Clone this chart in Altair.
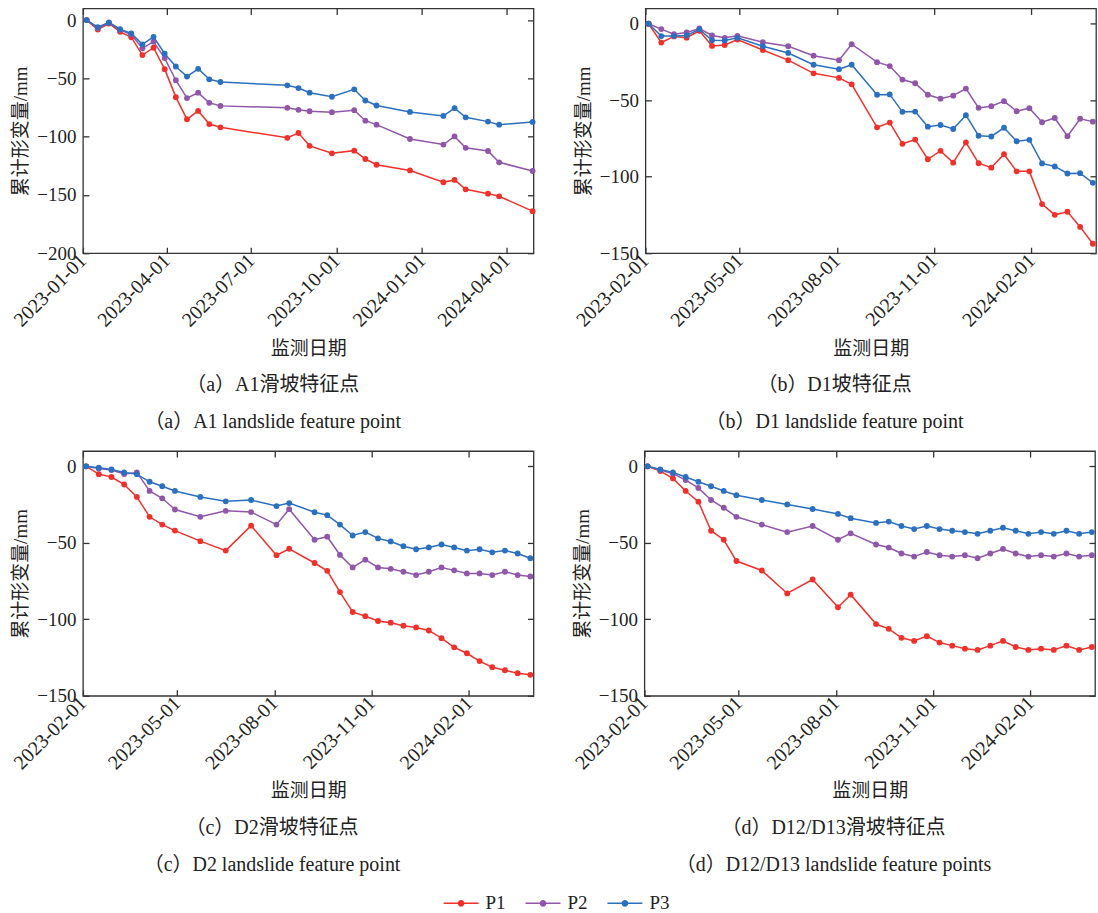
import altair as alt
import pandas as pd

SERIES = ["P1", "P2", "P3"]
COLORS = ["#f0302b", "#8f56a9", "#2b6fbf"]
FONT = "Liberation Serif, Noto Sans CJK SC"
TXT = "#222222"

# ---------- panel (a) A1 ----------
A_dates = ["2023-01-05", "2023-01-17", "2023-01-29", "2023-02-10", "2023-02-22", "2023-03-06",
           "2023-03-18", "2023-03-30", "2023-04-11", "2023-04-23", "2023-05-05", "2023-05-17",
           "2023-05-29", "2023-08-09", "2023-08-21", "2023-09-02", "2023-09-26", "2023-10-20",
           "2023-11-01", "2023-11-13", "2023-12-19", "2024-01-24", "2024-02-05", "2024-02-17",
           "2024-03-12", "2024-03-24", "2024-04-29"]
A_P1 = [0, -8.1, -2.9, -10.1, -14.7, -30, -23.7, -42.1, -66.1, -85.1, -77.9, -89.2, -92, -101,
        -96.9, -107.9, -114.3, -112, -119.2, -124.1, -129, -139.1, -137.1, -145.2, -148.9, -151.2, -163.9]
A_P2 = [0, -7, -2.6, -8.4, -12.4, -24.2, -18.5, -32.6, -51.6, -66.9, -62.3, -71, -73.6, -75.3,
        -77, -78.2, -79, -77.3, -86.3, -89.7, -102, -106.8, -99.8, -109.6, -112.3, -122, -129.5]
A_P3 = [0, -6, -2, -7.8, -11.5, -20.8, -14.4, -28.9, -39.8, -48.5, -41.8, -50.8, -53.1, -56,
        -58.3, -62.3, -65.8, -59.4, -69, -73.3, -78.8, -82.2, -75.6, -83.4, -87.1, -89.7, -87.4]
A_xticks = ["2023-01-01", "2023-04-01", "2023-07-01", "2023-10-01", "2024-01-01", "2024-04-01"]
A_xdomain = ["2023-01-01", "2024-04-30"]
A_ydomain = [-200, 10]
A_yticks = [0, -50, -100, -150, -200]

# ---------- panels (b)(c)(d) share acquisition dates ----------
BCD_dates = ["2023-02-04", "2023-02-16", "2023-02-28", "2023-03-12", "2023-03-24", "2023-04-05",
             "2023-04-17", "2023-04-29", "2023-05-23", "2023-06-16", "2023-07-10", "2023-08-03",
             "2023-08-15", "2023-09-08", "2023-09-20", "2023-10-02", "2023-10-14", "2023-10-26",
             "2023-11-07", "2023-11-19", "2023-12-01", "2023-12-13", "2023-12-25", "2024-01-06",
             "2024-01-18", "2024-01-30", "2024-02-11", "2024-02-23", "2024-03-06", "2024-03-18",
             "2024-03-30"]
BCD_xticks = ["2023-02-01", "2023-05-01", "2023-08-01", "2023-11-01", "2024-02-01"]
BCD_xdomain = ["2023-02-01", "2024-04-02"]
BCD_ydomain = [-150, 10]
BCD_yticks = [0, -50, -100, -150]

B_P1 = [0, -12.3, -8.3, -9.1, -4.6, -14.5, -13.9, -10.3, -17.2, -23.8, -32.4, -35.4, -39.6, -67.7,
        -64.6, -78.5, -75.7, -88.6, -83.1, -90.8, -77.6, -91.2, -94.1, -85.3, -96.5, -96.5, -117.9,
        -124.9, -122.9, -132.8, -143.8]
B_P2 = [0, -3.5, -6.8, -5.7, -3.1, -7.7, -9.2, -7.9, -12.1, -14.7, -20.9, -23.8, -13.4, -25.1,
        -27.7, -36.5, -38.9, -46.4, -49, -47, -42.4, -55, -53.9, -50.6, -57.2, -55.2, -64.4,
        -61.6, -73.5, -62.1, -64]
B_P3 = [0, -8.1, -8.1, -7.7, -3.7, -10.8, -11, -9.2, -14.7, -19.1, -26.8, -29.7, -26.8, -46.4,
        -46.2, -57.6, -57.4, -67.3, -66.2, -68.8, -59.8, -73.2, -73.7, -68, -76.8, -75.9, -91.3,
        -93.3, -97.9, -97.7, -104]

C_P1 = [0, -5.1, -7, -11.9, -20, -33, -38.1, -42, -48.9, -55.1, -38.8, -58.1, -53.9, -63.2,
        -68.3, -82.2, -95.2, -98, -101.1, -102.2, -104.2, -105.3, -107.3, -112.3, -118.3, -122.2,
        -127.3, -131.3, -133.3, -135.2, -136.3]
C_P2 = [0, -1.5, -2.4, -5, -4, -16.1, -20.9, -28.2, -33, -29.1, -29.9, -38.1, -28, -48, -46,
        -57.9, -66.1, -61, -66.1, -67, -68.9, -71.1, -68.9, -66.1, -68, -70, -70, -71.1, -68.9,
        -71.1, -72]
C_P3 = [0, -0.9, -2, -4, -5.1, -10.1, -13, -16.1, -20, -22.9, -22, -26, -24, -30, -31.9, -38.1,
        -45.2, -43, -47.1, -49.1, -52.2, -54.2, -53, -51.1, -53, -55.1, -54.2, -56.2, -55.1, -57,
        -60.1]

D_P1 = [0, -3.1, -7.9, -16.1, -23.1, -42.1, -48, -61.9, -68.1, -83.1, -74, -92.1, -83.9, -103.1,
        -106.2, -112.1, -114.1, -111, -115.2, -117.2, -119.2, -120, -117.2, -114.1, -118.1, -120,
        -119.2, -120, -117.2, -120, -118.1]
D_P2 = [0, -2.4, -4.8, -9, -14.1, -22, -27.1, -33, -38.1, -43, -39, -48, -43.8, -51.1, -53.1,
        -57, -59, -56, -58.1, -59, -58.1, -60.1, -57, -54, -57, -59, -58.1, -59, -57, -59, -58.1]
D_P3 = [0, -2, -4, -7, -10.1, -13, -16.1, -18.9, -22, -24.9, -27.9, -31.1, -33.9, -37, -36.1,
        -39, -41, -39, -41, -42.1, -43, -44.1, -42.1, -40.1, -42.1, -44.1, -43, -44.1, -42.1,
        -44.1, -43]

TITLES = [
    ("（a）A1滑坡特征点", "（a）A1 landslide feature point"),
    ("（b）D1坡特征点", "（b）D1 landslide feature point"),
    ("（c）D2滑坡特征点", "（c）D2 landslide feature point"),
    ("（d）D12/D13滑坡特征点", "（d）D12/D13 landslide feature points"),
]

W, H = 451, 245
LEGEND_SYMBOL = ("M-1,0L1,0"
                 "M-0.15,0a0.15,0.15 0 1,0 0.3,0a0.15,0.15 0 1,0 -0.3,0"
                 "M-0.09,0a0.09,0.09 0 1,0 0.18,0a0.09,0.09 0 1,0 -0.18,0"
                 "M-0.04,0a0.04,0.04 0 1,0 0.08,0a0.04,0.04 0 1,0 -0.08,0")


def dt(s):
    y, m, d = (int(p) for p in s.split("-"))
    return alt.DateTime(year=y, month=m, date=d, utc=True)


def panel(dates, series_vals, xdomain, xticks, ydomain, yticks, titles):
    rows = []
    for name, vals in zip(SERIES, series_vals):
        for d, v in zip(dates, vals):
            rows.append({"date": d, "value": v, "series": name})
    df = pd.DataFrame(rows)

    xscale = alt.Scale(type="utc", domain=[dt(s) for s in xdomain], nice=False)
    yscale = alt.Scale(domain=ydomain, nice=False, zero=False)
    xvals = [dt(s) for s in xticks]

    main_x = alt.Axis(orient="bottom", values=xvals, format="%Y-%m-%d",
                      labelAngle=315, labelAlign="right", labelBaseline="middle",
                      labelFont=FONT, labelFontSize=20, labelColor=TXT, labelPadding=4,
                      labelFlush=False, labelOverlap=False,
                      ticks=False, domain=False, grid=False,
                      title="监测日期", titleFont=FONT, titleFontSize=19, titleFontWeight="normal",
                      titleColor=TXT, titlePadding=9)
    main_y = alt.Axis(orient="left", values=yticks, labelFont=FONT, labelFontSize=19,
                      labelColor=TXT, labelPadding=7, ticks=False, domain=False, grid=False,
                      title="累计形变量/mm", titleFont=FONT, titleFontSize=19,
                      titleFontWeight="normal", titleColor=TXT, titlePadding=6)

    legend = alt.Legend(title=None, orient="none", direction="horizontal",
                        legendX=360, legendY=877, symbolType=LEGEND_SYMBOL, symbolSize=1225,
                        symbolStrokeWidth=1.5, labelFont=FONT, labelFontSize=19,
                        labelColor=TXT, labelOffset=6, columnPadding=16)

    main = alt.Chart(df).mark_line(
        strokeWidth=1.5, point=alt.OverlayMarkDef(filled=True, size=34)
    ).encode(
        x=alt.X("date:T", scale=xscale, axis=main_x),
        y=alt.Y("value:Q", scale=yscale, axis=main_y),
        color=alt.Color("series:N", scale=alt.Scale(domain=SERIES, range=COLORS), legend=legend),
    )

    def tick_axis(orient, vals):
        return alt.Axis(orient=orient, values=vals, offset=-6, tickSize=6, tickWidth=1.3,
                        tickColor="#333333", labels=False, domain=False, grid=False, title=None)

    ticks_bl = alt.Chart(df).mark_point(opacity=0).encode(
        x=alt.X("date:T", scale=xscale, axis=tick_axis("bottom", xvals)),
        y=alt.Y("value:Q", scale=yscale, axis=tick_axis("left", yticks)),
    )
    ticks_tr = alt.Chart(df).mark_point(opacity=0).encode(
        x=alt.X("date:T", scale=xscale, axis=tick_axis("top", xvals)),
        y=alt.Y("value:Q", scale=yscale, axis=tick_axis("right", yticks)),
    )

    return alt.layer(main, ticks_bl, ticks_tr).resolve_axis(
        x="independent", y="independent"
    ).properties(
        width=W, height=H,
        title=alt.TitleParams(text=titles[0], subtitle=titles[1], orient="bottom",
                              anchor="middle", align="center", frame="bounds",
                              font=FONT, fontSize=20, fontWeight="normal",
                              color=TXT, offset=17, subtitleFont=FONT, subtitleFontSize=20,
                              subtitleColor=TXT, subtitlePadding=17),
    )


pa = panel(A_dates, [A_P1, A_P2, A_P3], A_xdomain, A_xticks, A_ydomain, A_yticks, TITLES[0])
pb = panel(BCD_dates, [B_P1, B_P2, B_P3], BCD_xdomain, BCD_xticks, BCD_ydomain, BCD_yticks, TITLES[1])
pc = panel(BCD_dates, [C_P1, C_P2, C_P3], BCD_xdomain, BCD_xticks, BCD_ydomain, BCD_yticks, TITLES[2])
pd_ = panel(BCD_dates, [D_P1, D_P2, D_P3], BCD_xdomain, BCD_xticks, BCD_ydomain, BCD_yticks, TITLES[3])

chart = alt.vconcat(
    alt.hconcat(pa, pb, spacing=35),
    alt.hconcat(pc, pd_, spacing=35),
    spacing=16,
).properties(
    padding={"left": 9, "top": 6, "right": 0, "bottom": 50},
    background="white",
).configure_view(
    stroke="#333333", strokeWidth=1.3
)

chart.save("out.html", embed_options={"renderer": "svg", "actions": False})
